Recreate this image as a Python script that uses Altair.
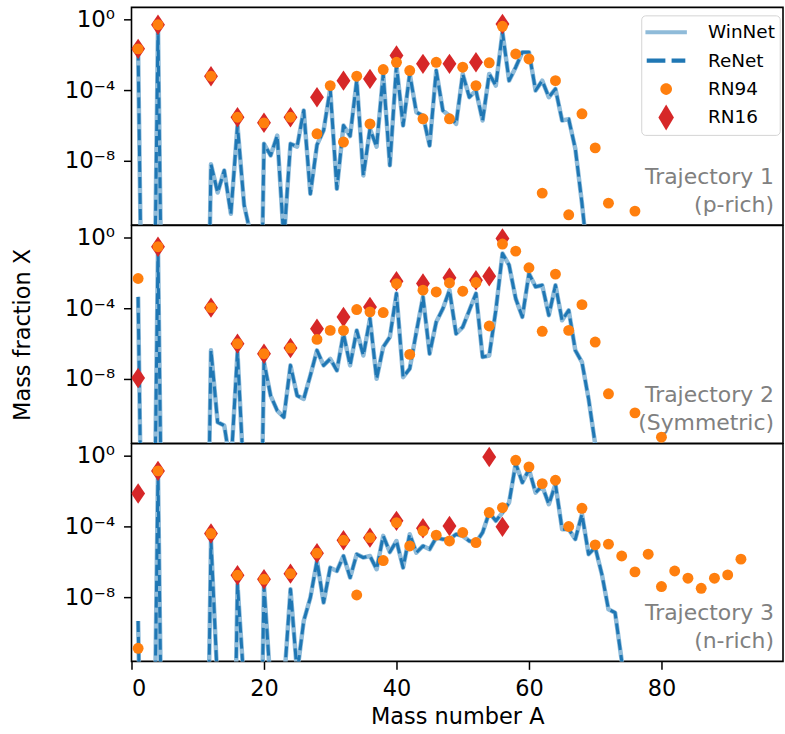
import altair as alt
import pandas as pd

# ---------------------------------------------------------------------------
# Data (log10 of the mass fraction X).
# -30 marks values far below the plotted range.
# ---------------------------------------------------------------------------
A_NET = list(range(1, 76))

T1_NET_LOG = [
    -1.70, -30, -30, -0.40, -30, -30, -30, -30, -30, -30, -30,
    -8.20, -9.80, -8.55, -11.0, -6.00, -10.5, -12.2, -30, -7.04,
    -7.70, -6.57, -12.5, -7.04, -7.20, -5.15, -9.87, -7.10, -6.28, -3.93,
    -9.59, -6.00, -6.60, -3.45, -8.83, -6.20, -7.20, -3.08, -8.26, -2.60,
    -6.00, -3.08, -5.25, -5.45, -7.14, -2.89, -5.15, -5.45, -5.91, -3.08,
    -4.40, -4.02, -5.72, -3.08, -3.74, -0.72, -3.46, -2.70, -1.85, -1.85,
    -4.02, -3.46, -4.40, -3.93, -5.72, -5.64, -7.32, -10.4, -14.0, -30,
    -30, -30, -30, -30, -30,
]
T2_NET_LOG = [
    -3.35, -30, -30, -0.60, -30, -30, -30, -30, -30, -30, -30,
    -6.38, -10.45, -10.64, -13.0, -6.48, -14.0, -30, -30, -7.05,
    -8.94, -9.79, -10.17, -7.23, -8.94, -9.13, -7.80, -6.38, -7.23, -6.86,
    -7.52, -5.44, -7.23, -5.25, -6.67, -4.58, -7.99, -6.19, -5.63, -3.16,
    -7.90, -7.42, -5.34, -3.35, -6.57, -4.77, -4.02, -2.97, -5.44, -5.06,
    -4.11, -3.16, -6.76, -6.67, -4.11, -0.89, -1.55, -3.45, -4.49, -2.03,
    -2.78, -2.69, -4.39, -2.69, -4.68, -4.11, -6.38, -7.05, -9.13, -11.7,
    -14.0, -30, -30, -30, -30,
]
T3_NET_LOG = [
    -9.35, -30, -30, -0.90, -30, -30, -30, -30, -30, -30, -30,
    -4.82, -13.0, -30, -30, -7.27, -13.0, -30, -30, -7.37,
    -13.0, -30, -13.0, -7.55, -12.3, -9.35, -8.03, -5.95, -8.31, -6.33,
    -6.52, -5.67, -6.89, -5.57, -5.76, -5.67, -6.42, -4.53, -5.45, -4.82,
    -6.33, -4.44, -5.48, -5.10, -5.29, -4.63, -4.72, -4.72, -4.44, -4.53,
    -4.82, -4.91, -4.34, -3.21, -3.68, -3.21, -2.64, -0.43, -1.51, -0.76,
    -2.08, -1.70, -2.74, -1.61, -4.15, -4.15, -4.72, -3.30, -5.57, -5.19,
    -6.70, -8.69, -8.88, -11.6, -14.0,
]

T1_RN94_A = [1, 4, 12, 16, 20, 24, 28, 30, 32, 34, 36, 38, 40, 42, 44, 46, 48,
             50, 52, 54, 56, 58, 60, 62, 64, 66, 68, 70, 72, 76]
T1_RN94_LOG = [-1.66, -0.29, -3.21, -5.53, -5.85, -5.53, -6.47, -3.74, -6.94,
               -3.21, -5.91, -2.83, -2.42, -2.89, -5.62, -2.42, -5.62, -2.70,
               -3.74, -2.45, -0.38, -1.95, -2.23, -9.83, -3.46, -11.06, -5.34,
               -7.27, -10.40, -10.85]
T1_RN16_A = [1, 4, 12, 16, 20, 24, 28, 32, 36, 40, 44, 48, 52, 56]
T1_RN16_LOG = [-1.66, -0.29, -3.21, -5.53, -5.85, -5.53, -4.40, -3.46, -3.36,
               -2.04, -2.51, -2.51, -2.42, -0.25]

T2_RN94_A = [1, 4, 12, 16, 20, 24, 28, 30, 32, 34, 36, 38, 40, 42, 44, 46, 48,
             50, 52, 54, 56, 58, 60, 62, 64, 66, 68, 70, 72, 76, 80]
T2_RN94_LOG = [-2.31, -0.51, -3.96, -6.00, -6.57, -6.25, -5.76, -5.25, -5.25,
               -4.07, -4.20, -4.24, -2.60, -6.61, -2.97, -3.07, -2.56, -3.03,
               -2.54, -5.00, -0.36, -0.76, -1.70, -5.30, -2.06, -5.25, -3.79,
               -5.91, -8.84, -9.92, -11.30]
T2_RN16_A = [1, 4, 12, 16, 20, 24, 28, 32, 36, 40, 44, 48, 52, 54, 56]
T2_RN16_LOG = [-7.95, -0.51, -3.96, -6.00, -6.57, -6.25, -5.15, -4.49, -3.92,
               -2.46, -2.59, -2.27, -2.41, -2.18, -0.04]

T3_RN94_A = [1, 4, 12, 16, 20, 24, 28, 32, 34, 36, 38, 40, 42, 44, 46, 48, 50,
             52, 54, 56, 58, 60, 62, 64, 66, 68, 70, 72, 74, 76, 78, 80, 82, 84,
             86, 88, 90, 92]
T3_RN94_LOG = [-10.9, -0.85, -4.40, -6.76, -6.99, -6.67, -5.51, -4.78, -7.88,
               -4.63, -5.93, -3.78, -5.10, -4.25, -4.49, -4.82, -4.34, -4.91,
               -3.21, -2.93, -0.25, -0.62, -1.57, -1.38, -4.00, -2.97, -5.04,
               -5.00, -5.67, -6.57, -5.57, -7.40, -6.52, -6.93, -7.50, -6.93,
               -6.74, -5.85]
T3_RN16_A = [1, 4, 12, 16, 20, 24, 28, 32, 36, 40, 44, 48, 54, 56]
T3_RN16_LOG = [-2.13, -0.85, -4.40, -6.76, -6.99, -6.67, -5.51, -4.78, -4.63,
               -3.68, -4.10, -3.97, -0.06, -4.02]

NOTES = [["Trajectory 1", "(p-rich)"],
         ["Trajectory 2", "(Symmetric)"],
         ["Trajectory 3", "(n-rich)"]]

SERIES = ["WinNet", "ReNet", "RN94", "RN16"]
SERIES_COLORS = ["#8fbbd9", "#1f77b4", "#ff7f0e", "#d62728"]
# legend glyphs (filled outlines, unit = 13 px with symbolSize 676)
SERIES_SYMBOLS = [
    "M-1.6,-0.155H1.6V0.155H-1.6Z",
    "M-1.5,-0.165H-0.06V0.165H-1.5ZM0.42,-0.165H1.48V0.165H0.42Z",
    "M0.45,0A0.45,0.45,0,1,1,-0.45,0A0.45,0.45,0,1,1,0.45,0Z",
    "M0,-1L0.6,0L0,1L-0.6,0Z",
]
THIN_DIAMOND = "M0,-1L0.68,0L0,1L-0.68,0Z"

X_DOMAIN = [0, 98.35]
Y_DOMAIN = [10 ** -11.64, 10 ** 0.69]
W, H = 654, 218.5
FONT = "DejaVu Sans"

YLABEL = "datum.value > 0.1 ? '10\u2070' : (datum.value > 1e-6 ? '10\u207b\u2074' : '10\u207b\u2078')"


def make_panel(net_log, rn94_a, rn94_log, rn16_a, rn16_log, note, show_x, ytitle, with_legend):
    net = pd.DataFrame({"A": A_NET, "X": [10.0 ** v for v in net_log]})
    rn94 = pd.DataFrame({"A": rn94_a, "X": [10.0 ** v for v in rn94_log]})
    rn16 = pd.DataFrame({"A": rn16_a, "X": [10.0 ** v for v in rn16_log]})

    if show_x:
        x_axis = alt.Axis(values=[0, 20, 40, 60, 80], title="Mass number A", format="d",
                          labelPadding=8, titlePadding=6, labelFontSize=22.5)
    else:
        x_axis = None
    x = alt.X("A:Q", scale=alt.Scale(domain=X_DOMAIN, nice=False, zero=False), axis=x_axis)
    y = alt.Y("X:Q", scale=alt.Scale(type="log", domain=Y_DOMAIN, nice=False),
              axis=alt.Axis(values=[1, 1e-4, 1e-8], labelExpr=YLABEL, title=ytitle,
                            labelPadding=9, titlePadding=30, labelFontSize=23))

    note_layer = alt.Chart(pd.DataFrame({"n": [0]})).mark_text(
        align="right", baseline="alphabetic", fontSize=22, color="#808080",
        lineHeight=28, font=FONT,
    ).encode(x=alt.value(W - 9), y=alt.value(177), text=alt.value(note))

    winnet = alt.Chart(net).mark_line(color="#8fbbd9", strokeWidth=4.5, clip=True,
                                      strokeJoin="round").encode(x=x, y=y)
    renet = alt.Chart(net).mark_line(color="#1f77b4", strokeWidth=3, strokeDash=[11, 5],
                                     clip=True, strokeJoin="round").encode(x=x, y=y)
    rn16_pts = alt.Chart(rn16).mark_point(shape=THIN_DIAMOND, filled=True, size=420,
                                          color="#d62728", opacity=1, clip=True).encode(x=x, y=y)
    rn94_pts = alt.Chart(rn94).mark_circle(size=120, color="#ff7f0e", opacity=1,
                                           clip=True).encode(x=x, y=y)
    layers = [note_layer, winnet, renet, rn16_pts, rn94_pts]

    if with_legend:
        leg = alt.Legend(title=None, orient="none", legendX=511.7, legendY=8,
                         labelFont=FONT, labelFontSize=18.5, labelColor="black",
                         labelExpr="datum.label + '\u2002'",
                         symbolSize=676, symbolStrokeWidth=0, padding=4, fillColor="white",
                         strokeColor="#d4d4d4", cornerRadius=4, rowPadding=2.5,
                         gridAlign="all", symbolOffset=8, labelOffset=29)
        legend_layer = alt.Chart(alt.InlineData(values=[])).mark_point(
            filled=True, opacity=1, strokeWidth=0
        ).encode(
            fill=alt.Fill("series:N", scale=alt.Scale(domain=SERIES, range=SERIES_COLORS), legend=leg),
            shape=alt.Shape("series:N", scale=alt.Scale(domain=SERIES, range=SERIES_SYMBOLS), legend=leg),
        )
        layers.append(legend_layer)

    return alt.layer(*layers).properties(width=W, height=H)


p1 = make_panel(T1_NET_LOG, T1_RN94_A, T1_RN94_LOG, T1_RN16_A, T1_RN16_LOG, NOTES[0], False, None, True)
p2 = make_panel(T2_NET_LOG, T2_RN94_A, T2_RN94_LOG, T2_RN16_A, T2_RN16_LOG, NOTES[1], False, "Mass fraction X", False)
p3 = make_panel(T3_NET_LOG, T3_RN94_A, T3_RN94_LOG, T3_RN16_A, T3_RN16_LOG, NOTES[2], True, None, False)

chart = alt.vconcat(p1, p2, p3, spacing=0, bounds="flush").resolve_scale(
    fill="independent", shape="independent"
).properties(
    padding={"left": 10, "top": 5, "right": 1, "bottom": 5}
).configure_axis(
    labelFont=FONT, titleFont=FONT, titleFontSize=22.5, titleFontWeight="normal",
    labelColor="black", titleColor="black", tickColor="black", tickWidth=1.5,
    tickSize=8, domain=False, grid=False,
).configure_view(stroke="black", strokeWidth=1.6)

chart.save("out.html", embed_options={"renderer": "svg", "actions": False})
